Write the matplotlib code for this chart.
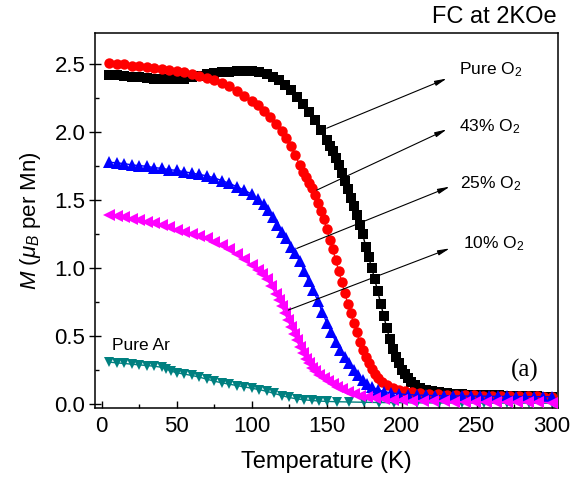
import matplotlib
matplotlib.use("Agg")
import matplotlib.pyplot as plt
from matplotlib.ticker import MultipleLocator, FormatStrFormatter

plt.rcParams['font.family'] = ['Liberation Sans', 'DejaVu Sans']
plt.rcParams['mathtext.fontset'] = 'custom'
plt.rcParams['mathtext.rm'] = 'Liberation Sans'
plt.rcParams['mathtext.it'] = 'Liberation Sans:italic'

# ---------------- data ----------------
T_pure = [5, 10, 15, 20, 25, 30, 35, 40, 45, 50, 55, 60, 65, 70, 75, 80, 85, 90, 95, 100,
          105, 110, 114, 118, 122, 126, 130, 134, 138, 142, 146, 150,
          152, 154, 156, 158, 160, 162, 164, 166, 168, 170, 172, 174, 176, 178, 180,
          182, 184, 186, 188, 190, 192, 194, 196, 198, 200, 202, 204, 206, 209, 212,
          216, 220, 225, 230, 235, 240, 245, 250, 255, 260, 265, 270, 275, 280, 285,
          290, 295, 300]
M_pure = [2.42, 2.42, 2.415, 2.41, 2.405, 2.40, 2.395, 2.39, 2.39, 2.39, 2.395, 2.405,
          2.415, 2.425, 2.435, 2.44, 2.445, 2.45, 2.45, 2.45,
          2.445, 2.43, 2.41, 2.385, 2.35, 2.31, 2.26, 2.21, 2.15, 2.09, 2.02, 1.94,
          1.90, 1.86, 1.81, 1.76, 1.70, 1.64, 1.58, 1.52, 1.46, 1.39, 1.32, 1.25, 1.16,
          1.08, 1.00, 0.92, 0.83, 0.74, 0.65, 0.56, 0.48, 0.41, 0.35, 0.30, 0.255, 0.22,
          0.19, 0.165, 0.14, 0.12, 0.105, 0.095, 0.087, 0.081, 0.077, 0.074, 0.072,
          0.070, 0.068, 0.067, 0.065, 0.064, 0.062, 0.061, 0.060, 0.058, 0.057, 0.056]

T_43 = [5, 10, 15, 20, 25, 30, 35, 40, 45, 50, 55, 60, 65, 70, 75, 80, 85, 90, 95, 100,
        104, 108, 112, 116, 120, 123, 126, 129, 132, 134, 136, 138, 140, 142, 144, 146,
        148, 150, 152, 154, 156, 158, 160, 162, 164, 166, 168, 170, 172, 174, 176, 178,
        180, 182, 184, 187, 190, 194, 198, 202, 207, 212, 218, 224, 230, 236, 242, 248,
        254, 260, 266, 272, 278, 284, 290, 295, 300]
M_43 = [2.51, 2.505, 2.50, 2.49, 2.485, 2.48, 2.47, 2.465, 2.455, 2.45, 2.44, 2.43,
        2.415, 2.40, 2.385, 2.365, 2.34, 2.30, 2.265, 2.23,
        2.20, 2.16, 2.11, 2.06, 2.01, 1.96, 1.90, 1.83, 1.76, 1.71, 1.67, 1.63, 1.59,
        1.54, 1.48, 1.42, 1.36, 1.29, 1.21, 1.14, 1.06, 0.98, 0.90, 0.82, 0.74, 0.67,
        0.60, 0.53, 0.46, 0.40, 0.35, 0.30, 0.26, 0.225, 0.195, 0.165, 0.14, 0.12,
        0.108, 0.10, 0.092, 0.085, 0.079, 0.075, 0.071, 0.069, 0.067, 0.065, 0.064,
        0.063, 0.062, 0.061, 0.060, 0.059, 0.058, 0.057, 0.056]

T_25 = [5, 10, 15, 20, 25, 30, 35, 40, 45, 50, 55, 60, 65, 70, 75, 80, 85, 90, 95, 100,
        104, 108, 111, 114, 117, 120, 123, 126, 129, 132, 135, 138, 141, 144, 147, 150,
        153, 156, 159, 162, 165, 168, 171, 174, 177, 180, 184, 188, 193, 198, 204, 210,
        216, 222, 228, 234, 240, 246, 252, 258, 264, 270, 276, 282, 288, 294, 300]
M_25 = [1.78, 1.775, 1.77, 1.76, 1.755, 1.75, 1.74, 1.735, 1.725, 1.72, 1.71, 1.70,
        1.69, 1.68, 1.665, 1.645, 1.625, 1.60, 1.575, 1.545,
        1.51, 1.47, 1.43, 1.38, 1.32, 1.27, 1.22, 1.16, 1.11, 1.05, 0.98, 0.91, 0.84,
        0.76, 0.68, 0.60, 0.53, 0.46, 0.40, 0.35, 0.30, 0.255, 0.215, 0.18, 0.15,
        0.128, 0.108, 0.094, 0.084, 0.077, 0.071, 0.068, 0.066, 0.064, 0.063, 0.062,
        0.061, 0.060, 0.060, 0.059, 0.058, 0.058, 0.057, 0.057, 0.056, 0.056, 0.055]

T_10 = [5, 10, 15, 20, 25, 30, 35, 40, 45, 50, 55, 60, 65, 70, 75, 80, 85, 90, 95, 100,
        104, 107, 110, 113, 116, 118, 120, 122, 124, 126, 128, 130, 132, 134, 136, 138,
        140, 142, 145, 148, 151, 154, 157, 160, 164, 168, 172, 177, 182, 188, 194, 200,
        207, 214, 221, 228, 235, 242, 249, 256, 263, 270, 277, 284, 291, 300]
M_10 = [1.39, 1.385, 1.375, 1.365, 1.355, 1.34, 1.33, 1.315, 1.30, 1.285, 1.27, 1.255,
        1.24, 1.22, 1.195, 1.17, 1.14, 1.105, 1.065, 1.025,
        0.99, 0.96, 0.92, 0.87, 0.81, 0.77, 0.72, 0.67, 0.62, 0.57, 0.52, 0.47, 0.42,
        0.375, 0.335, 0.30, 0.27, 0.245, 0.215, 0.19, 0.17, 0.15, 0.13, 0.11, 0.09,
        0.075, 0.063, 0.052, 0.044, 0.038, 0.033, 0.030, 0.027, 0.025, 0.023, 0.021,
        0.020, 0.019, 0.018, 0.017, 0.016, 0.015, 0.015, 0.014, 0.014, 0.013]

T_ar = [5, 10, 15, 20, 25, 30, 35, 40, 43, 46, 50, 55, 60, 65, 70, 75, 80, 85, 90, 95,
        100, 105, 110, 115, 120, 125, 130, 135, 140, 145, 150, 157, 165, 175, 185, 195,
        210, 225, 240, 255, 270, 285, 300]
M_ar = [0.31, 0.305, 0.30, 0.295, 0.29, 0.285, 0.28, 0.272, 0.262, 0.245, 0.232, 0.222,
        0.212, 0.200, 0.185, 0.170, 0.158, 0.148, 0.138, 0.128,
        0.118, 0.108, 0.095, 0.080, 0.064, 0.050, 0.040, 0.033, 0.028, 0.024, 0.021,
        0.019, 0.017, 0.015, 0.013, 0.012, 0.011, 0.010, 0.010, 0.009, 0.009, 0.009, 0.008]

labels = ['Pure O$_2$', '43% O$_2$', '25% O$_2$', '10% O$_2$']
# arrow tail (on curve) and head positions, in data units
arrow_tail_T = [150, 143.4, 130, 124.4]
arrow_tail_M = [2.03, 1.575, 1.146, 0.693]
arrow_head_T = [230, 230, 232, 232]
arrow_head_M = [2.395, 2.021, 1.60, 1.146]
label_T = [238.5, 238.5, 239, 240.7]
label_M = [2.46, 2.04, 1.62, 1.18]

# ---------------- figure ----------------
fig = plt.figure(figsize=(5.73, 4.86), dpi=100)
ax = fig.add_axes([95 / 573, 78.3 / 486, 463 / 573, 374.7 / 486])

ax.plot(T_ar, M_ar, color='#008080', marker='v', ms=7.5, mew=0, lw=1, zorder=2)
ax.plot(T_pure, M_pure, color='black', marker='s', ms=6.5, mew=0, lw=1, zorder=3)
ax.plot(T_43, M_43, color='red', marker='o', ms=7.5, mew=0, lw=1, zorder=4)
ax.plot(T_25, M_25, color='blue', marker='^', ms=8, mew=0, lw=1, zorder=5)
ax.plot(T_10, M_10, color='magenta', marker='<', ms=8, mew=0, lw=1, zorder=6)

for lab, tt, tm, ht, hm, lt, lm in zip(labels, arrow_tail_T, arrow_tail_M,
                                       arrow_head_T, arrow_head_M, label_T, label_M):
    ax.annotate('', xy=(ht, hm), xytext=(tt, tm),
                arrowprops=dict(arrowstyle='-|>,head_length=0.7,head_width=0.15',
                                color='black', lw=0.8, shrinkA=0, shrinkB=0),
                zorder=8)
    ax.text(lt, lm, lab, fontsize=12.5, ha='left', va='center', zorder=9)

ax.text(7, 0.43, 'Pure Ar', fontsize=12.5, ha='left', va='center')
ax.text(282, 0.25, '(a)', fontsize=18, ha='center', va='center',
        family=['Liberation Serif', 'DejaVu Serif'])

ax.set_xlim(-4.5, 304.2)
ax.set_ylim(-0.025, 2.73)
ax.xaxis.set_major_locator(MultipleLocator(50))
ax.xaxis.set_minor_locator(MultipleLocator(25))
ax.yaxis.set_major_locator(MultipleLocator(0.5))
ax.yaxis.set_minor_locator(MultipleLocator(0.25))
ax.yaxis.set_major_formatter(FormatStrFormatter('%.1f'))

ax.tick_params(axis='x', which='major', direction='in', length=5, width=1,
               labelsize=16, pad=6)
ax.tick_params(axis='x', which='minor', direction='in', length=3, width=1)
ax.tick_params(axis='y', which='major', direction='inout', length=8, width=1,
               labelsize=16, pad=3)
ax.tick_params(axis='y', which='minor', direction='in', length=3, width=1)
for s in ax.spines.values():
    s.set_linewidth(1.1)

ax.set_xlabel('Temperature (K)', fontsize=17, labelpad=10)
ax.set_ylabel(r'$M$ ($\mu_B$ per Mn)', fontsize=16, labelpad=8)

fig.text(557 / 573, 1 - 17 / 486, 'FC at 2KOe', fontsize=17, ha='right', va='center')

fig.savefig('out.png', dpi=100)
